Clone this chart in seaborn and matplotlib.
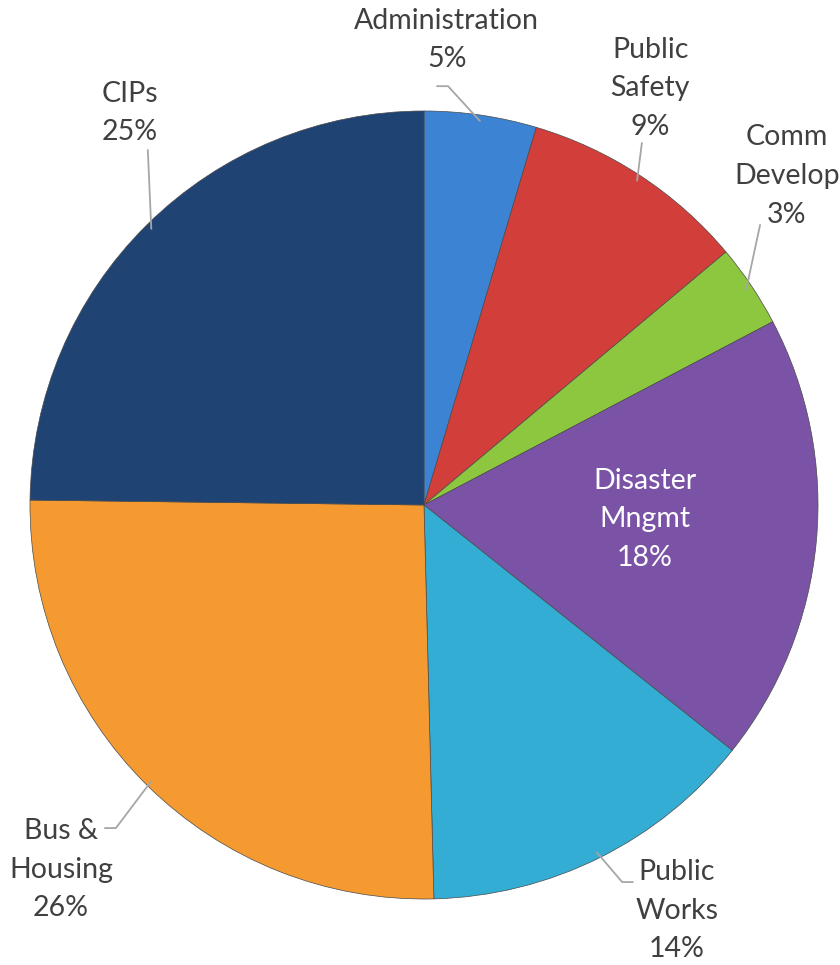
import numpy as np
import seaborn as sns
import matplotlib.pyplot as plt

# Budget shares (percent)
categories = ['Administration', 'Public\nSafety', 'Comm\nDevelop', 'Disaster\nMngmt',
              'Public\nWorks', 'Bus &\nHousing', 'CIPs']
shares = [4.6, 9.3, 3.4, 18.4, 13.9, 25.6, 24.8]
colors = ['#3d83d3', '#d23f3b', '#8dc63f', '#7b53a6', '#34add4', '#f59a30', '#1f4373']

# label layout (data units, pie radius = 1)
label_pos = [(0.058, 1.180), (0.574, 1.058), (0.921, 0.835), (0.561, -0.036),
             (0.642, -1.030), (-0.921, -0.926), (-0.746, 0.995)]
leader_pts = [[(0.061, 1.063), (0.033, 1.063)],
              [(0.553, 0.919)],
              [(0.853, 0.711)],
              None,
              [(0.503, -0.957), (0.530, -0.957)],
              [(-0.782, -0.820), (-0.810, -0.820)],
              [(-0.701, 0.901)]]

sns.set_theme(style='white')
plt.rcParams['font.family'] = ['Lato', 'DejaVu Sans']

fig = plt.figure(figsize=(8.4, 9.65), dpi=100)
ax = fig.add_axes([0, 0, 1, 1])

wedges, _ = ax.pie(shares, colors=colors, startangle=90, counterclock=False,
                   radius=1.0, wedgeprops=dict(edgecolor='#4a4a4a', linewidth=0.5))

for i, w in enumerate(wedges):
    pct = f'{shares[i]:.0f}%'
    txt = categories[i] + '\n' + pct
    lx, ly = label_pos[i]
    col = 'white' if leader_pts[i] is None else '#404040'
    ax.text(lx, ly, txt, ha='center', va='center', fontsize=20.5, color=col,
            linespacing=1.6)
    if leader_pts[i] is not None:
        mid = np.deg2rad((w.theta1 + w.theta2) / 2)
        xs = [0.985 * np.cos(mid)] + [p[0] for p in leader_pts[i]]
        ys = [0.985 * np.sin(mid)] + [p[1] for p in leader_pts[i]]
        ax.plot(xs, ys, color='#a6a6a6', linewidth=1.3)

ax.set_xlim(-1.0761, 1.0558)
ax.set_ylim(-1.1675, 1.2817)
ax.axis('off')

plt.savefig('out.png', dpi=100)
